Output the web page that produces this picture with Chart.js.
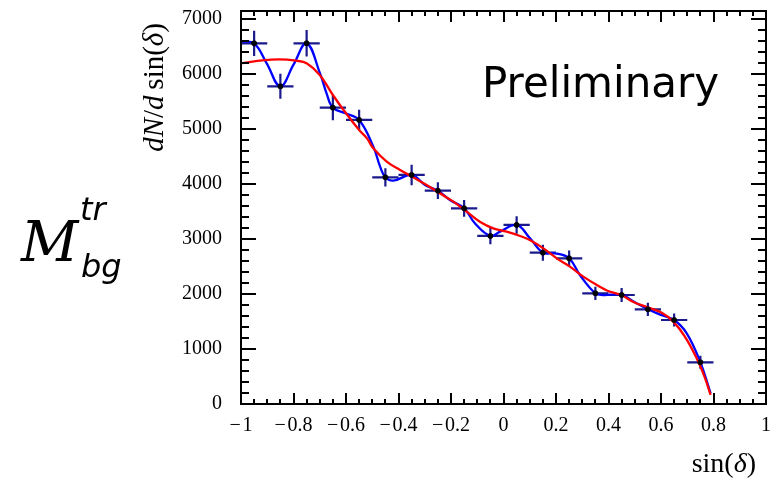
<!DOCTYPE html>
<html>
<head>
<meta charset="utf-8">
<script src="https://cdn.jsdelivr.net/npm/chart.js@4.4.0/dist/chart.umd.min.js"></script>
<style>
  html, body { margin: 0; padding: 0; background: #fff; }
</style>
</head>
<body>
<canvas id="chart" width="777" height="481"></canvas>
<script>
// Histogram bins (sin(delta) bin centres), contents and errors
const binCenters = [-0.95, -0.85, -0.75, -0.65, -0.55, -0.45, -0.35, -0.25, -0.15,
                    -0.05, 0.05, 0.15, 0.25, 0.35, 0.45, 0.55, 0.65, 0.75];
const counts = [6558, 5775, 6558, 5388, 5164, 4121, 4164, 3878, 3558,
                3055, 3255, 2751, 2649, 2012, 1982, 1722, 1527, 758];
const countErrors = [230, 227, 240, 227, 185, 165, 185, 152, 152,
                     150, 158, 145, 140, 120, 128, 120, 120, 118];
const binHalfWidth = 0.05;

// Blue interpolating spline
const splineX = [-1.0, -0.95, -0.902, -0.85, -0.80, -0.75, -0.699, -0.674, -0.65, -0.60,
                 -0.55, -0.496, -0.47, -0.45, -0.42, -0.35, -0.299, -0.25, -0.204, -0.15,
                 -0.109, -0.05, -0.013, 0.05, 0.101, 0.15, 0.196, 0.25, 0.291, 0.35,
                 0.379, 0.45, 0.50, 0.55, 0.60, 0.65, 0.698, 0.75, 0.789];
const splineY = [6590, 6558, 6194, 5775, 6170, 6558, 6012, 5648, 5388, 5280,
                 5164, 4679, 4315, 4121, 4060, 4164, 3982, 3878, 3709, 3558,
                 3285, 3055, 3133, 3255, 3012, 2751, 2739, 2649, 2345, 2012,
                 1982, 1982, 1850, 1722, 1620, 1527, 1285, 758, 194];

// Red fit curve
const fitX = [-1.0, -0.93, -0.855, -0.79, -0.75, -0.70, -0.65, -0.60, -0.55, -0.52,
              -0.496, -0.445, -0.394, -0.344, -0.293, -0.242, -0.191, -0.14, -0.09, -0.039,
              0.012, 0.063, 0.10, 0.152, 0.203, 0.253, 0.304, 0.355, 0.396, 0.45,
              0.495, 0.549, 0.603, 0.647, 0.691, 0.736, 0.768, 0.789];
const fitY = [6194, 6242, 6267, 6242, 6194, 5982, 5618, 5285, 4982, 4830,
              4648, 4406, 4255, 4121, 3982, 3830, 3679, 3497, 3315, 3194,
              3133, 3055, 2982, 2830, 2648, 2497, 2315, 2164, 2060, 1976,
              1855, 1758, 1660, 1497, 1224, 830, 467, 164];

const xTicks = [-1, -0.8, -0.6, -0.4, -0.2, 0, 0.2, 0.4, 0.6, 0.8, 1];
const yTicks = [0, 1000, 2000, 3000, 4000, 5000, 6000, 7000];
const xMinorStep = 0.05;
const yMinorStep = 200;

const serif = '"Liberation Serif", "DejaVu Serif", serif';

function fmtX(v) {
  if (Math.abs(v) < 1e-9) return '0';
  const s = String(Math.round(Math.abs(v) * 10) / 10);
  return (v < 0 ? '\u2212\u200a' : '') + s;
}

// draw a run of [text, font] pieces starting at x (current transform)
function drawRuns(ctx, runs, x, y) {
  runs.forEach(([t, f]) => {
    ctx.font = f;
    ctx.fillText(t, x, y);
    x += ctx.measureText(t).width;
  });
  return x;
}
function runsWidth(ctx, runs) {
  let w = 0;
  runs.forEach(([t, f]) => { ctx.font = f; w += ctx.measureText(t).width; });
  return w;
}

const decor = {
  id: 'decor',
  beforeDatasetsDraw(chart) {
    const { ctx, scales: { x, y } } = chart;
    ctx.save();
    ctx.strokeStyle = '#1a1a8c';
    ctx.lineWidth = 2.2;
    binCenters.forEach((c, i) => {
      const px = x.getPixelForValue(c);
      const py = y.getPixelForValue(counts[i]);
      ctx.beginPath();
      ctx.moveTo(x.getPixelForValue(c - binHalfWidth), py);
      ctx.lineTo(x.getPixelForValue(c + binHalfWidth), py);
      ctx.moveTo(px, y.getPixelForValue(counts[i] + countErrors[i]));
      ctx.lineTo(px, y.getPixelForValue(counts[i] - countErrors[i]));
      ctx.stroke();
    });
    ctx.restore();
  },
  afterDraw(chart) {
    const { ctx, chartArea: a, scales: { x, y } } = chart;
    ctx.save();
    ctx.strokeStyle = '#000';
    ctx.lineWidth = 2;
    ctx.strokeRect(a.left, a.top, a.right - a.left, a.bottom - a.top);

    // inward tick marks on all four sides
    ctx.beginPath();
    for (let v = -1; v <= 1.0001; v += xMinorStep) {
      const major = xTicks.some(t => Math.abs(t - v) < 1e-6);
      const px = Math.round(x.getPixelForValue(v));
      const len = major ? 11 : 5;
      ctx.moveTo(px, a.bottom); ctx.lineTo(px, a.bottom - len);
      ctx.moveTo(px, a.top); ctx.lineTo(px, a.top + len);
    }
    for (let v = 0; v <= y.max; v += yMinorStep) {
      const major = v % 1000 === 0;
      const py = Math.round(y.getPixelForValue(v));
      const len = major ? 15 : 8;
      ctx.moveTo(a.left, py); ctx.lineTo(a.left + len, py);
      ctx.moveTo(a.right, py); ctx.lineTo(a.right - len, py);
    }
    ctx.stroke();

    ctx.fillStyle = '#000';
    ctx.textBaseline = 'alphabetic';
    ctx.textAlign = 'left';

    // y axis title, rotated, end aligned to the top
    const yf = 29;
    const yRuns = [
      ['dN', `italic ${yf}px ` + serif], ['/', `${yf}px ` + serif], ['d', `italic ${yf}px ` + serif],
      ['\u2009sin(', `${yf}px ` + serif], ['\u03b4', `italic ${yf}px ` + serif], [')', `${yf}px ` + serif]
    ];
    const yw = runsWidth(ctx, yRuns);
    ctx.save();
    ctx.translate(163, 23 + yw);
    ctx.rotate(-Math.PI / 2);
    drawRuns(ctx, yRuns, 0, 0);
    ctx.restore();

    // x axis title, right aligned
    const xRuns = [['sin(', '28px ' + serif], ['\u03b4', 'italic 28px ' + serif], [')', '28px ' + serif]];
    const xw = runsWidth(ctx, xRuns);
    drawRuns(ctx, xRuns, 756 - xw, 472);

    // big label on the left
    ctx.font = 'italic 56px "DejaVu Serif", serif';
    ctx.fillText('M', 21, 261);
    ctx.font = 'italic 32px "DejaVu Sans", sans-serif';
    ctx.fillText('tr', 80, 220);
    ctx.fillText('bg', 81, 277);

    ctx.font = '42px "DejaVu Sans", sans-serif';
    ctx.fillText('Preliminary', 482, 97);
    ctx.restore();
  }
};

new Chart(document.getElementById('chart'), {
  type: 'scatter',
  data: {
    datasets: [
      {
        label: 'data',
        data: binCenters.map((c, i) => ({ x: c, y: counts[i] })),
        backgroundColor: '#000',
        borderColor: '#000',
        pointRadius: 2.5,
        showLine: false
      },
      {
        label: 'fit',
        data: fitX.map((v, i) => ({ x: v, y: fitY[i] })),
        showLine: true,
        borderColor: '#ff0000',
        borderWidth: 2.3,
        pointRadius: 0,
        tension: 0.4
      },
      {
        label: 'spline',
        data: splineX.map((v, i) => ({ x: v, y: splineY[i] })),
        showLine: true,
        borderColor: '#0000ff',
        borderWidth: 2.3,
        pointRadius: 0,
        tension: 0.4
      }
    ]
  },
  options: {
    responsive: false,
    animation: false,
    layout: { padding: { left: 0, right: 11, top: 11, bottom: 0 } },
    plugins: { legend: { display: false }, tooltip: { enabled: false } },
    scales: {
      x: {
        type: 'linear',
        min: -1,
        max: 1,
        grid: { display: false, drawTicks: false },
        border: { display: false },
        afterBuildTicks: s => { s.ticks = xTicks.map(v => ({ value: v })); },
        afterFit: s => { s.height = 77; s.paddingLeft = 0; s.paddingRight = 0; },
        ticks: {
          callback: v => fmtX(v),
          font: { family: serif, size: 20 },
          color: '#000',
          padding: 10,
          maxRotation: 0,
          autoSkip: false
        }
      },
      y: {
        type: 'linear',
        min: 0,
        max: 7145,
        grid: { display: false, drawTicks: false },
        border: { display: false },
        afterBuildTicks: s => { s.ticks = yTicks.map(v => ({ value: v })); },
        afterFit: s => { s.width = 241; s.paddingTop = 0; s.paddingBottom = 0; },
        ticks: {
          callback: v => String(v),
          font: { family: serif, size: 20 },
          color: '#000',
          padding: 19,
          autoSkip: false
        }
      }
    }
  },
  plugins: [decor]
});
</script>
</body>
</html>
